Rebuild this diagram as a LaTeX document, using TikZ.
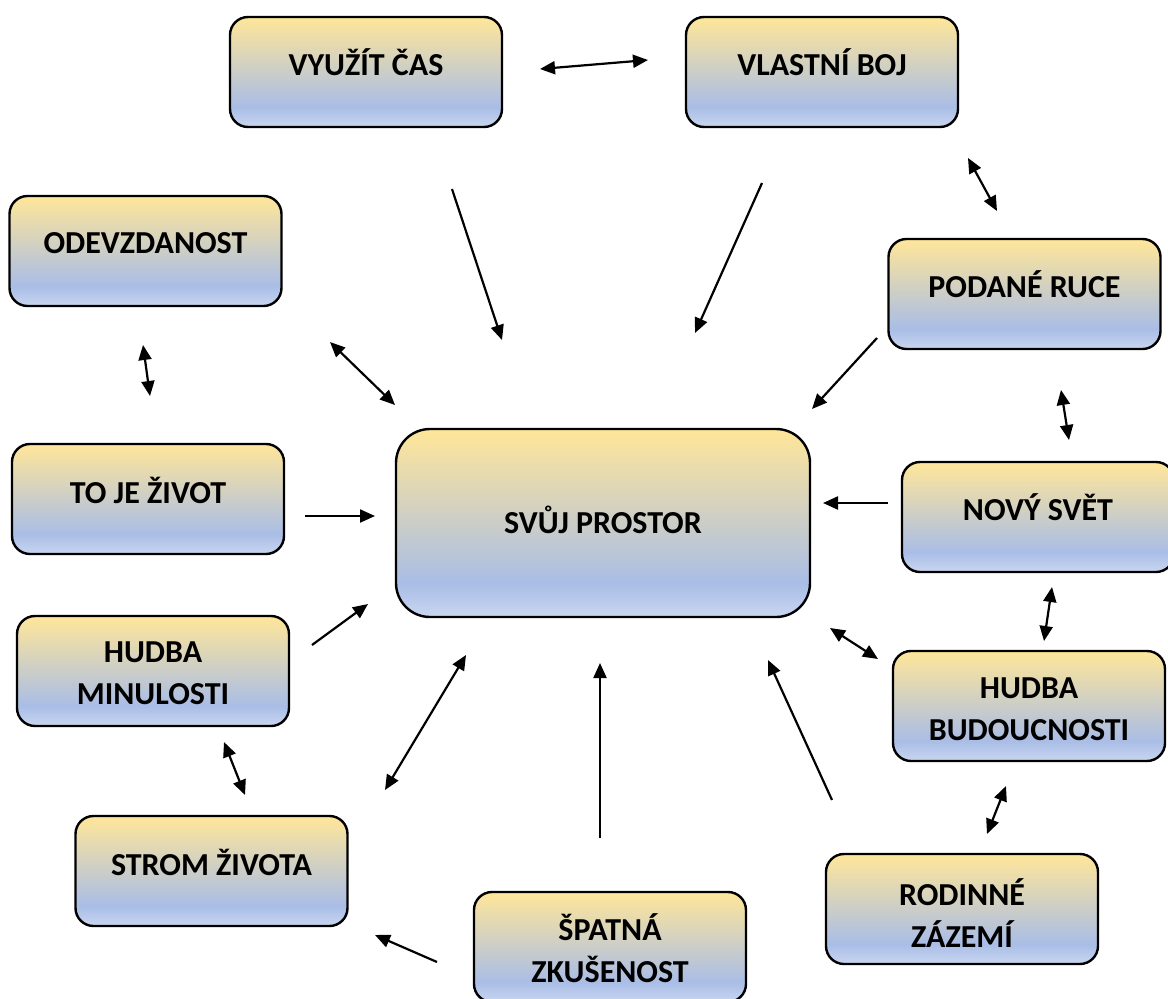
\documentclass[tikz,border=0pt]{standalone}
\usepackage{fontspec}
\setmainfont{Carlito}
\usetikzlibrary{arrows.meta}
\definecolor{cyel}{HTML}{FFE699}
\definecolor{cblue}{HTML}{A9BDE6}
\definecolor{clight}{HTML}{C9D6F0}
\pgfdeclareverticalshading{boxshade}{100bp}{color(0bp)=(clight); color(25bp)=(clight); color(34bp)=(cblue); color(75bp)=(cyel); color(100bp)=(cyel)}
\tikzset{
  box/.style={draw=black, line width=2.4pt, rounded corners=18pt, shading=boxshade, minimum width=272pt, minimum height=110pt, inner sep=0pt},
  lbl/.style={font=\fontsize{32}{42}\selectfont\bfseries, align=center, inner sep=0pt},
  arr/.style={line width=2.2pt, -{Triangle[length=15pt,width=13pt]}},
  darr/.style={line width=2.2pt, {Triangle[length=15pt,width=13pt]}-{Triangle[length=15pt,width=13pt]}},
}
\begin{document}
\begin{tikzpicture}[x=1pt,y=-1pt]
\useasboundingbox (0,0) rectangle (1168,999);
% boxes
\node[box] (vyuzit) at (366,72) {};
\node[lbl] (tvyuzit) at ([yshift=10pt]vyuzit.center) {VYUŽÍT ČAS};
\node[box] (vlastni) at (822,72) {};
\node[lbl] (tvlastni) at ([yshift=10pt]vlastni.center) {VLASTNÍ BOJ};
\node[box] (odev) at (145.5,251) {};
\node[lbl] (todev) at ([yshift=8pt]odev.center) {ODEVZDANOST};
\node[box] (podane) at (1024.5,294) {};
\node[lbl] (tpodane) at ([yshift=10pt]podane.center) {PODANÉ RUCE};
\node[box] (toje) at (148,499) {};
\node[lbl] (ttoje) at ([yshift=9pt]toje.center) {TO JE ŽIVOT};
\node[box, minimum width=414pt, minimum height=188pt, rounded corners=34pt] (center) at (603,523) {};
\node[lbl] (tcenter) at ([yshift=3pt]center.center) {SVŮJ PROSTOR};
\node[box] (novy) at (1038,517) {};
\node[lbl] (tnovy) at ([yshift=10pt]novy.center) {NOVÝ SVĚT};
\node[box] (minul) at (153,671) {};
\node[lbl] (tminul) at ([yshift=-2pt]minul.center) {HUDBA\\MINULOSTI};
\node[box] (budouc) at (1029,706) {};
\node[lbl] (tbudouc) at ([yshift=-3pt]budouc.center) {HUDBA\\BUDOUCNOSTI};
\node[box] (strom) at (211.5,871) {};
\node[lbl] (tstrom) at ([yshift=9pt]strom.center) {STROM ŽIVOTA};
\node[box] (rodin) at (962,909) {};
\node[lbl] (trodin) at ([yshift=-4pt]rodin.center) {RODINNÉ\\ZÁZEMÍ};
\node[box] (spatna) at (610,947) {};
\node[lbl] (tspatna) at ([yshift=-1pt]spatna.center) {ŠPATNÁ\\ZKUŠENOST};
% connector end points
\coordinate (a1) at (540,69);  \coordinate (b1) at (648,60);
\coordinate (a2) at (452,189); \coordinate (b2) at (502,340);
\coordinate (a3) at (762,183); \coordinate (b3) at (695,333);
\coordinate (a4) at (968,158); \coordinate (b4) at (997,211);
\coordinate (a5) at (143,345); \coordinate (b5) at (150,396);
\coordinate (a6) at (330,342); \coordinate (b6) at (395,405);
\coordinate (a7) at (877,338); \coordinate (b7) at (812,409);
\coordinate (a8) at (1061,390); \coordinate (b8) at (1069,440);
\coordinate (a9) at (305,516); \coordinate (b9) at (375,516);
\coordinate (a10) at (888,503); \coordinate (b10) at (823,503);
\coordinate (a11) at (1052,587); \coordinate (b11) at (1044,641);
\coordinate (a12) at (830,628); \coordinate (b12) at (878,659);
\coordinate (a13) at (312,645); \coordinate (b13) at (368,604);
\coordinate (a14) at (224,742); \coordinate (b14) at (245,795);
\coordinate (a15) at (385,790); \coordinate (b15) at (466,655);
\coordinate (a16) at (600,838); \coordinate (b16) at (600,663);
\coordinate (a17) at (832,800); \coordinate (b17) at (768,660);
\coordinate (a18) at (1006,786); \coordinate (b18) at (987,834);
\coordinate (a19) at (437,962); \coordinate (b19) at (375,935);
% connectors
\draw[darr] (a1) -- (b1);
\draw[arr] (a2) -- (b2);
\draw[arr] (a3) -- (b3);
\draw[darr] (a4) -- (b4);
\draw[darr] (a5) -- (b5);
\draw[darr] (a6) -- (b6);
\draw[arr] (a7) -- (b7);
\draw[darr] (a8) -- (b8);
\draw[arr] (a9) -- (b9);
\draw[arr] (a10) -- (b10);
\draw[darr] (a11) -- (b11);
\draw[darr] (a12) -- (b12);
\draw[arr] (a13) -- (b13);
\draw[darr] (a14) -- (b14);
\draw[darr] (a15) -- (b15);
\draw[arr] (a16) -- (b16);
\draw[arr] (a17) -- (b17);
\draw[darr] (a18) -- (b18);
\draw[arr] (a19) -- (b19);
\end{tikzpicture}
\end{document}
